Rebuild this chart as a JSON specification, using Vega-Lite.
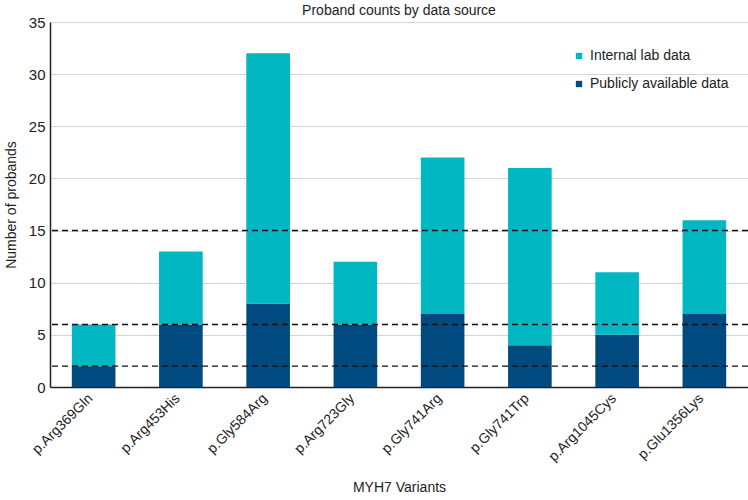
{
  "$schema": "https://vega.github.io/schema/vega-lite/v6.json",
  "width": 698,
  "height": 365,
  "autosize": {"type": "none"},
  "padding": {"left": 50, "top": 22, "right": 0, "bottom": 113},
  "config": {
    "font": "Liberation Sans",
    "view": {"stroke": null},
    "axis": {"labelFont": "Liberation Sans", "titleFont": "Liberation Sans", "labelColor": "#222222", "titleColor": "#222222"}
  },
  "title": {"text": "Proband counts by data source", "fontSize": 14, "fontWeight": "normal", "color": "#222222", "anchor": "middle", "offset": -3},
  "datasets": {
    "bars": [
      {"variant": "p.Arg369Gln", "source": "Publicly available data", "count": 2},
      {"variant": "p.Arg369Gln", "source": "Internal lab data", "count": 4},
      {"variant": "p.Arg453His", "source": "Publicly available data", "count": 6},
      {"variant": "p.Arg453His", "source": "Internal lab data", "count": 7},
      {"variant": "p.Gly584Arg", "source": "Publicly available data", "count": 8},
      {"variant": "p.Gly584Arg", "source": "Internal lab data", "count": 24},
      {"variant": "p.Arg723Gly", "source": "Publicly available data", "count": 6},
      {"variant": "p.Arg723Gly", "source": "Internal lab data", "count": 6},
      {"variant": "p.Gly741Arg", "source": "Publicly available data", "count": 7},
      {"variant": "p.Gly741Arg", "source": "Internal lab data", "count": 15},
      {"variant": "p.Gly741Trp", "source": "Publicly available data", "count": 4},
      {"variant": "p.Gly741Trp", "source": "Internal lab data", "count": 17},
      {"variant": "p.Arg1045Cys", "source": "Publicly available data", "count": 5},
      {"variant": "p.Arg1045Cys", "source": "Internal lab data", "count": 6},
      {"variant": "p.Glu1356Lys", "source": "Publicly available data", "count": 7},
      {"variant": "p.Glu1356Lys", "source": "Internal lab data", "count": 9}
    ],
    "thresholds": [{"y": 2}, {"y": 6}, {"y": 15}]
  },
  "layer": [
    {
      "data": {"name": "bars"},
      "transform": [{"calculate": "datum.source === 'Publicly available data' ? 0 : 1", "as": "ord"}],
      "mark": {"type": "bar"},
      "encoding": {
        "x": {
          "field": "variant", "type": "nominal", "sort": null,
          "scale": {"paddingInner": 0.5, "paddingOuter": 0.25},
          "axis": {"title": "MYH7 Variants", "titleFontSize": 14, "titleFontWeight": "normal", "titlePadding": 17, "labelAngle": -45, "labelFontSize": 14, "labelPadding": 4, "labelOffset": -8, "ticks": false, "domainColor": "#222222", "domainWidth": 1.5}
        },
        "y": {
          "field": "count", "type": "quantitative", "stack": "zero",
          "scale": {"domain": [0, 35], "nice": false},
          "axis": {"title": "Number of probands", "titleFontSize": 14, "titleFontWeight": "normal", "titlePadding": 10, "values": [0, 5, 10, 15, 20, 25, 30, 35], "labelFontSize": 15, "labelPadding": 5, "ticks": false, "domainColor": "#222222", "domainWidth": 1.5, "grid": true, "gridColor": "#d4d4d4", "gridWidth": 1.2}
        },
        "color": {
          "field": "source", "type": "nominal",
          "scale": {"domain": ["Internal lab data", "Publicly available data"], "range": ["#00b7c2", "#004a80"]},
          "legend": {"title": null, "orient": "none", "legendX": 522, "legendY": 27, "symbolType": "square", "symbolSize": 40, "labelFontSize": 14, "labelColor": "#222222", "rowPadding": 14, "labelOffset": 4}
        },
        "order": {"field": "ord", "type": "quantitative"}
      }
    },
    {
      "data": {"name": "thresholds"},
      "mark": {"type": "rule", "color": "#111111", "strokeDash": [6, 4], "strokeWidth": 1.4},
      "encoding": {"y": {"field": "y", "type": "quantitative"}}
    }
  ]
}
